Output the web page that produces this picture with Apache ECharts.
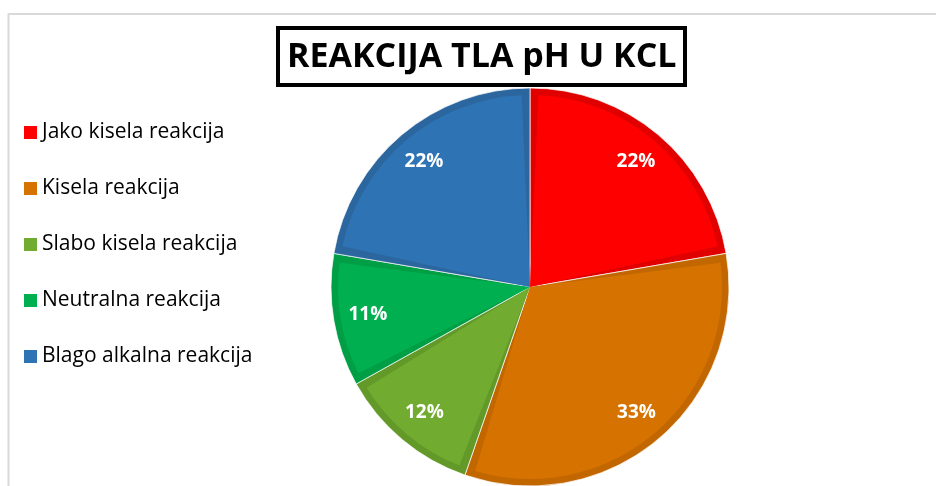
<!DOCTYPE html>
<html>
<head>
<meta charset="utf-8">
<script src="https://cdn.jsdelivr.net/npm/echarts@6/dist/echarts.min.js"></script>
<style>
  html, body { margin: 0; padding: 0; background: #fff; }
  #chart { width: 936px; height: 486px; }
</style>
</head>
<body>
<div id="chart"></div>
<script>
// podaci
var categories = ['Jako kisela reakcija', 'Kisela reakcija', 'Slabo kisela reakcija', 'Neutralna reakcija', 'Blago alkalna reakcija'];
var values = [22.3, 33.0, 11.6, 10.8, 22.3];
var colors = ['#FF0000', '#D67200', '#71AB2F', '#00B050', '#2E74B5'];
var edgeColors = ['#E00000', '#C26700', '#629928', '#009E45', '#2B669F'];

var font = '"Open Sans", "Liberation Sans", sans-serif';
var center = [530, 287];

function slices (cols) {
  return categories.map(function (name, i) {
    return { name: name, value: values[i], itemStyle: { color: cols[i] } };
  });
}

var chart = echarts.init(document.getElementById('chart'));

chart.setOption({
  animation: false,
  title: {
    text: 'REAKCIJA TLA pH U KCL',
    left: 278,
    top: 28,
    padding: [12, 9, 11, 9],
    borderColor: '#000',
    borderWidth: 4,
    textStyle: {
      fontFamily: font,
      fontSize: 34,
      fontWeight: 'bold',
      color: '#000'
    }
  },
  graphic: [
    {
      // okvir grafikona
      type: 'rect',
      silent: true,
      z: -1,
      shape: { x: 8.5, y: 14, width: 1000, height: 1000 },
      style: { fill: 'none', stroke: '#d9d9d9', lineWidth: 2 }
    }
  ],
  legend: {
    orient: 'vertical',
    left: 24,
    top: 122,
    padding: 0,
    itemWidth: 13,
    itemHeight: 13,
    itemGap: 35,
    icon: 'rect',
    textStyle: {
      fontFamily: font,
      fontSize: 21,
      lineHeight: 20,
      color: '#000'
    }
  },
  series: [
    {
      // glavna boja
      type: 'pie',
      z: 3,
      center: center,
      radius: [0, 192],
      padAngle: 5,
      startAngle: 90,
      silent: true,
      label: { show: false },
      labelLine: { show: false },
      data: slices(colors)
    },
    {
      // tamniji rub
      type: 'pie',
      z: 2,
      center: center,
      radius: [0, 199],
      startAngle: 90,
      silent: true,
      itemStyle: { borderColor: 'rgba(255,255,255,0.7)', borderWidth: 1 },
      label: { show: false },
      labelLine: { show: false },
      data: slices(edgeColors)
    },
    {
      // postoci
      type: 'pie',
      z: 4,
      center: center,
      radius: [124, 199],
      startAngle: 90,
      silent: true,
      percentPrecision: 0,
      itemStyle: { color: 'rgba(0,0,0,0)' },
      label: {
        show: true,
        position: 'inside',
        formatter: '{d}%',
        color: '#fff',
        fontFamily: font,
        fontSize: 19,
        fontWeight: 'bold'
      },
      labelLine: { show: false },
      data: categories.map(function (name, i) {
        return { name: name, value: values[i] };
      })
    }
  ]
});
</script>
</body>
</html>
